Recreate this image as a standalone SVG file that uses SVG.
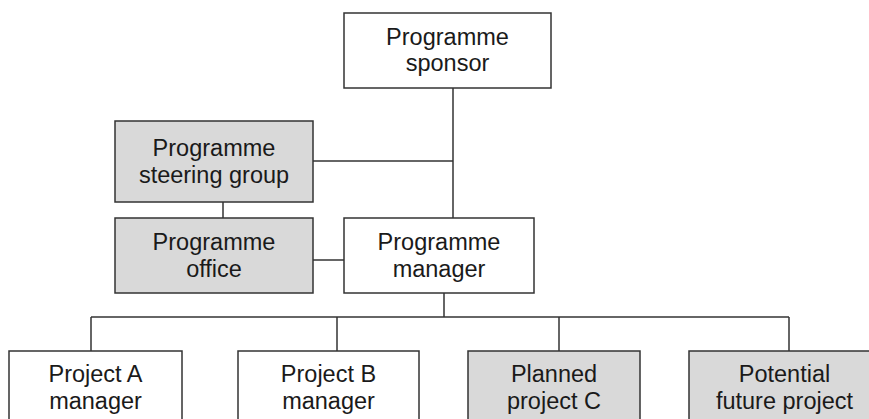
<svg xmlns="http://www.w3.org/2000/svg" width="869" height="419" viewBox="0 0 869 419">
<style>
.box{fill:#ffffff;stroke:#333333;stroke-width:1.5}
.grey{fill:#d9d9d9}
.t{font-family:"Liberation Sans",Arial,sans-serif;font-size:23.5px;fill:#1a1a1a;text-anchor:middle}
.c{fill:none;stroke:#333333;stroke-width:1.5}
</style>
<rect width="869" height="419" fill="#ffffff"/>
<g id="connectors">
<path class="c" d="M453 88V218"/>
<path class="c" d="M313 161H453"/>
<path class="c" d="M223 202V218"/>
<path class="c" d="M313 260H344"/>
<path class="c" d="M444 293V317"/>
<path class="c" d="M91 317H789"/>
<path class="c" d="M91 317V351"/>
<path class="c" d="M337 317V351"/>
<path class="c" d="M559 317V351"/>
<path class="c" d="M789 317V351"/>
</g>
<g id="sponsor">
<rect class="box" x="344" y="13" width="207" height="75"/>
<text class="t" x="447.5" y="45">Programme</text>
<text class="t" x="447.5" y="71">sponsor</text>
</g>
<g id="steering">
<rect class="box grey" x="115" y="121" width="198" height="81"/>
<text class="t" x="214" y="156">Programme</text>
<text class="t" x="214" y="183">steering group</text>
</g>
<g id="office">
<rect class="box grey" x="115" y="218" width="198" height="75"/>
<text class="t" x="214" y="250">Programme</text>
<text class="t" x="214" y="277">office</text>
</g>
<g id="manager">
<rect class="box" x="344" y="218" width="190" height="75"/>
<text class="t" x="439" y="250">Programme</text>
<text class="t" x="439" y="277">manager</text>
</g>
<g id="projectA">
<rect class="box" x="9" y="351" width="173" height="80"/>
<text class="t" x="95.5" y="382">Project A</text>
<text class="t" x="95.5" y="409">manager</text>
</g>
<g id="projectB">
<rect class="box" x="238" y="351" width="181" height="80"/>
<text class="t" x="328.5" y="382">Project B</text>
<text class="t" x="328.5" y="409">manager</text>
</g>
<g id="projectC">
<rect class="box grey" x="468" y="351" width="172" height="80"/>
<text class="t" x="554" y="382">Planned</text>
<text class="t" x="554" y="409">project C</text>
</g>
<g id="future">
<rect class="box grey" x="689" y="351" width="190" height="80"/>
<text class="t" x="784.5" y="382">Potential</text>
<text class="t" x="784.5" y="409">future project</text>
</g>
</svg>
